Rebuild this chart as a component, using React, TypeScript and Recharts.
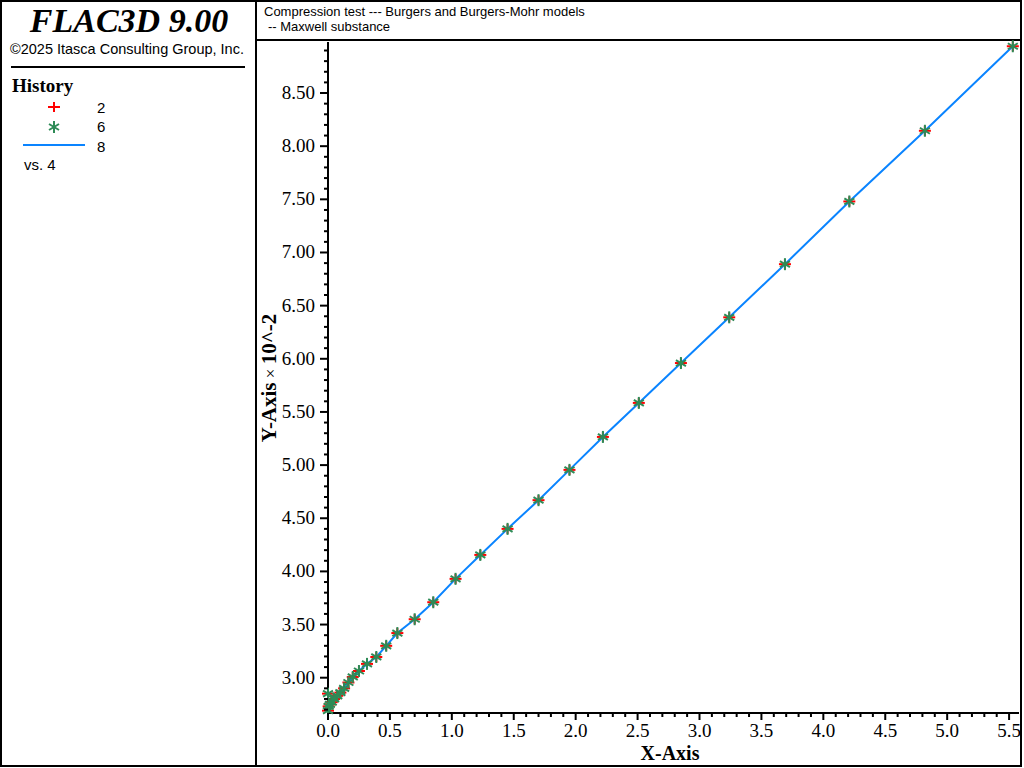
import React from "react";
import { ComposedChart, Line, XAxis, YAxis, Label } from "recharts";

// x values (history 4)
const X_VALS = [
  0, 0, 0.005, 0.015, 0.03, 0.05, 0.075, 0.1, 0.13, 0.165, 0.2, 0.25, 0.315,
  0.39, 0.47, 0.56, 0.7, 0.85, 1.03, 1.23, 1.45, 1.7, 1.95, 2.22, 2.51, 2.85,
  3.24, 3.69, 4.21, 4.82, 5.53,
];

// y values (x10^-2) for histories 2, 6 and 8
const H2 = [
  2.69, 2.85, 2.73, 2.75, 2.77, 2.8, 2.83, 2.86, 2.9, 2.955, 3.007, 3.063, 3.13,
  3.195, 3.3, 3.42, 3.55, 3.71, 3.93, 4.155, 4.4, 4.67, 4.955, 5.265, 5.585,
  5.96, 6.39, 6.89, 7.48, 8.145, 8.94,
];
const H6 = [
  2.69, 2.85, 2.73, 2.75, 2.77, 2.8, 2.83, 2.86, 2.9, 2.955, 3.007, 3.063, 3.13,
  3.195, 3.3, 3.42, 3.55, 3.71, 3.93, 4.155, 4.4, 4.67, 4.955, 5.265, 5.585,
  5.96, 6.39, 6.89, 7.48, 8.145, 8.94,
];
const H8 = [
  2.69, 2.85, 2.73, 2.75, 2.77, 2.8, 2.83, 2.86, 2.9, 2.955, 3.007, 3.063, 3.13,
  3.195, 3.3, 3.42, 3.55, 3.71, 3.93, 4.155, 4.4, 4.67, 4.955, 5.265, 5.585,
  5.96, 6.39, 6.89, 7.48, 8.145, 8.94,
];

// tick positions: every 0.1, labelled every 0.5
const X_TICKS = Array.from({ length: 56 }, (_, k) => k / 10);
const Y_TICKS = Array.from({ length: 63 }, (_, k) => (k + 27) / 10);

const X_DOMAIN = [0, 5.58];
const Y_DOMAIN = [2.668, 8.98];

const SERIF = "'Liberation Serif', 'Times New Roman', serif";
const SANS = "'Liberation Sans', Arial, sans-serif";
const RED = "#ff0000";
const GREEN = "#2e8b57";
const BLUE = "#0a84ff";

const rows = X_VALS.map((x, i) => ({ x, h2: H2[i], h6: H6[i], h8: H8[i] }));

const isMajor = (v: number) => Math.round(v * 10) % 5 === 0;

const XTick = (props: any) => {
  const { x, y, payload } = props;
  const v = payload.value as number;
  const major = isMajor(v);
  return (
    <g>
      <line x1={x} x2={x} y1={y} y2={y + (major ? 7 : 4)} stroke="#000" strokeWidth={2} />
      {major && (
        <text x={x} y={y + 24} textAnchor="middle" fontFamily={SERIF} fontSize={19} fill="#000">
          {v.toFixed(1)}
        </text>
      )}
    </g>
  );
};

const YTick = (props: any) => {
  const { x, y, payload } = props;
  const v = payload.value as number;
  const major = isMajor(v);
  return (
    <g>
      <line x1={x - (major ? 8 : 4)} x2={x} y1={y} y2={y} stroke="#000" strokeWidth={2} />
      {major && (
        <text x={x - 13} y={y + 6} textAnchor="end" fontFamily={SERIF} fontSize={19} fill="#000">
          {v.toFixed(2)}
        </text>
      )}
    </g>
  );
};

const Plus = (props: any) => {
  const { cx, cy } = props;
  if (cx == null || cy == null) return null;
  return (
    <g stroke={RED} strokeWidth={2}>
      <line x1={cx - 6} x2={cx + 6} y1={cy} y2={cy} />
      <line x1={cx} x2={cx} y1={cy - 5} y2={cy + 5} />
    </g>
  );
};

const Star = (props: any) => {
  const { cx, cy } = props;
  if (cx == null || cy == null) return null;
  return (
    <g stroke={GREEN} strokeWidth={2}>
      <line x1={cx} x2={cx} y1={cy - 6} y2={cy + 6} />
      <line x1={cx - 5} x2={cx + 5} y1={cy - 3} y2={cy + 3} />
      <line x1={cx - 5} x2={cx + 5} y1={cy + 3} y2={cy - 3} />
    </g>
  );
};

const Frame = () => (
  <svg width={1024} height={768} style={{ position: "absolute", left: 0, top: 0 }}>
    <rect x={1} y={1} width={1020} height={765} fill="#fff" stroke="#000" strokeWidth={2} />
    <line x1={256} x2={256} y1={0} y2={767} stroke="#000" strokeWidth={2} />
    <line x1={256} x2={1021} y1={40} y2={40} stroke="#000" strokeWidth={2} />

    <text
      x={129}
      y={32}
      textAnchor="middle"
      fontFamily={SERIF}
      fontStyle="italic"
      fontWeight="bold"
      fontSize={34}
    >
      FLAC3D 9.00
    </text>
    <text x={10} y={54} fontFamily={SANS} fontSize={14.5}>
      ©2025 Itasca Consulting Group, Inc.
    </text>
    <line x1={11} x2={245} y1={67} y2={67} stroke="#000" strokeWidth={2} />

    <text x={12} y={92} fontFamily={SERIF} fontWeight="bold" fontSize={19}>
      History
    </text>
    <Plus cx={54} cy={107} />
    <text x={97} y={113} fontFamily={SANS} fontSize={15}>2</text>
    <Star cx={54} cy={127} />
    <text x={97} y={132} fontFamily={SANS} fontSize={15}>6</text>
    <line x1={23} x2={85} y1={145} y2={145} stroke={BLUE} strokeWidth={2} />
    <text x={97} y={152} fontFamily={SANS} fontSize={15}>8</text>
    <text x={24} y={170} fontFamily={SANS} fontSize={15}>vs. 4</text>

    <text x={264} y={16} fontFamily={SANS} fontSize={13}>
      Compression test --- Burgers and Burgers-Mohr models
    </text>
    <text x={268} y={31} fontFamily={SANS} fontSize={13}>
      -- Maxwell substance
    </text>
  </svg>
);

const YLabel = () => (
  <text
    x={276}
    y={378}
    transform="rotate(-90 276 378)"
    textAnchor="middle"
    fontFamily={SERIF}
    fontSize={21}
    fill="#000"
  >
    <tspan fontWeight="bold">Y-Axis</tspan>
    <tspan fontSize={17}> × </tspan>
    <tspan fontWeight="bold">10^-2</tspan>
  </text>
);

const XLabel = () => (
  <text x={670} y={760} textAnchor="middle" fontFamily={SERIF} fontWeight="bold" fontSize={20} fill="#000">
    X-Axis
  </text>
);

export default function App() {
  return (
    <div style={{ position: "absolute", left: 0, top: 0, width: 1024, height: 768, background: "#fff" }}>
      <Frame />
      <div style={{ position: "absolute", left: 0, top: 0 }}>
        <ComposedChart
          width={1024}
          height={768}
          data={rows}
          margin={{ top: 42, right: 5, bottom: 25, left: 268 }}
        >
          <XAxis
            dataKey="x"
            type="number"
            domain={X_DOMAIN}
            ticks={X_TICKS}
            interval={0}
            tick={<XTick />}
            tickLine={false}
            tickSize={0}
            tickMargin={0}
            height={30}
            axisLine={{ stroke: "#000", strokeWidth: 2 }}
          >
            <Label content={<XLabel />} />
          </XAxis>
          <YAxis
            type="number"
            domain={Y_DOMAIN}
            ticks={Y_TICKS}
            interval={0}
            tick={<YTick />}
            tickLine={false}
            tickSize={0}
            tickMargin={0}
            width={60}
            axisLine={{ stroke: "#000", strokeWidth: 2 }}
          >
            <Label content={<YLabel />} />
          </YAxis>
          <Line
            dataKey="h2"
            stroke="none"
            dot={<Plus />}
            activeDot={false}
            isAnimationActive={false}
          />
          <Line
            dataKey="h6"
            stroke="none"
            dot={<Star />}
            activeDot={false}
            isAnimationActive={false}
          />
          <Line
            type="linear"
            dataKey="h8"
            stroke={BLUE}
            strokeWidth={2}
            dot={false}
            activeDot={false}
            isAnimationActive={false}
          />
        </ComposedChart>
      </div>
    </div>
  );
}
